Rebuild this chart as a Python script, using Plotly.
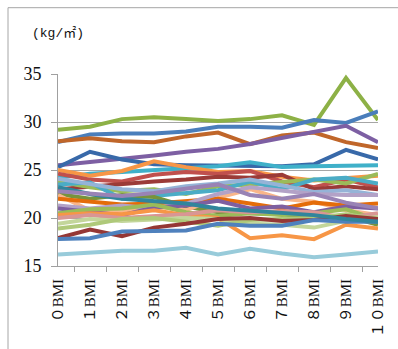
import plotly.graph_objects as go

# Categories (BMI measurement rounds)
categories = ["０BMI", "１BMI", "２BMI", "３BMI", "４BMI", "５BMI",
              "６BMI", "７BMI", "８BMI", "９BMI", "１０BMI"]

# BMI series (kg/m2), one list per subject
s01 = [29.2, 29.5, 30.3, 30.5, 30.3, 30.1, 30.3, 30.7, 29.7, 34.6, 30.2]
s02 = [27.9, 28.7, 28.8, 28.8, 29.0, 29.5, 29.5, 29.4, 30.2, 29.9, 31.1]
s03 = [28.0, 28.3, 28.0, 27.9, 28.5, 28.9, 27.7, 28.6, 28.9, 27.9, 27.3]
s04 = [25.5, 25.8, 26.1, 26.5, 26.9, 27.2, 27.7, 28.3, 28.9, 29.6, 27.9]
s05 = [25.3, 26.9, 26.1, 25.6, 25.5, 25.5, 25.4, 25.4, 25.6, 27.1, 26.1]
s06 = [24.2, 24.6, 24.8, 25.0, 25.2, 25.4, 25.8, 25.3, 25.4, 25.4, 25.5]
s07 = [25.0, 24.4, 24.9, 25.9, 25.3, 24.8, 24.9, 24.3, 23.9, 24.2, 24.4]
s08 = [24.6, 24.0, 23.8, 24.5, 24.8, 24.6, 24.9, 23.8, 23.2, 24.0, 23.2]
s09 = [23.0, 23.3, 23.6, 23.8, 24.0, 24.3, 24.2, 24.5, 23.0, 23.3, 23.0]
s10 = [23.8, 23.2, 22.8, 23.0, 22.5, 23.3, 23.5, 23.8, 24.0, 23.6, 24.6]
s11 = [23.5, 23.7, 22.0, 22.3, 22.5, 22.9, 23.8, 23.0, 24.0, 24.2, 23.6]
s12 = [24.1, 23.5, 23.0, 22.8, 23.3, 23.6, 24.0, 23.4, 22.7, 22.9, 22.4]
s13 = [22.5, 22.0, 22.4, 22.2, 21.2, 20.6, 20.5, 20.4, 20.0, 20.2, 19.3]
s14 = [22.4, 20.8, 20.6, 21.2, 20.8, 22.1, 23.0, 22.0, 21.7, 20.8, 20.3]
s15 = [22.0, 21.7, 21.4, 21.5, 21.8, 22.0, 21.5, 21.0, 21.6, 21.3, 21.5]
s16 = [21.3, 21.0, 21.3, 21.0, 21.5, 22.5, 23.2, 22.9, 22.5, 22.4, 22.4]
s17 = [21.0, 20.6, 20.3, 21.1, 21.3, 21.8, 21.0, 21.2, 20.6, 21.2, 21.0]
s18 = [20.5, 20.9, 21.0, 21.4, 20.6, 20.2, 20.5, 20.3, 20.5, 20.9, 19.8]
s19 = [20.3, 20.5, 20.4, 20.8, 20.3, 20.0, 17.9, 18.2, 17.8, 19.3, 18.9]
s20 = [20.0, 20.3, 20.0, 20.2, 20.4, 20.8, 20.6, 20.7, 20.6, 20.0, 20.5]
s21 = [19.4, 19.9, 19.7, 19.9, 20.0, 19.9, 19.4, 19.3, 19.0, 19.7, 20.1]
s22 = [18.9, 19.3, 19.9, 20.0, 19.6, 19.2, 19.8, 19.9, 20.0, 20.4, 19.9]
s23 = [17.9, 18.8, 18.1, 19.0, 19.4, 19.9, 20.0, 19.7, 19.8, 20.2, 19.9]
s24 = [17.8, 17.9, 18.6, 18.7, 18.7, 19.4, 19.2, 19.2, 19.8, 19.6, 19.6]
s25 = [16.2, 16.4, 16.6, 16.6, 16.9, 16.2, 16.8, 16.3, 15.9, 16.2, 16.5]
s26 = [23.2, 22.5, 22.0, 21.8, 21.5, 21.0, 20.8, 20.5, 20.3, 19.9, 19.6]
s27 = [22.8, 22.6, 22.3, 22.6, 23.0, 23.5, 22.4, 22.0, 22.5, 21.6, 21.0]

series = [s01, s02, s03, s04, s05, s06, s07, s08, s09, s10, s11, s12, s13, s14,
          s15, s16, s17, s18, s19, s20, s21, s22, s23, s24, s25, s26, s27]

colors = ["#8DB146", "#4A7EBB", "#C0662A", "#7D5FA3", "#3869A9", "#3FB0C9",
          "#F79646", "#C0504D", "#9B3B38", "#9BBB59", "#4BACC6", "#95B3D7",
          "#77933C", "#F9B68A", "#E46C0A", "#B3A2C7", "#7E5FA0", "#9BBB59",
          "#F79646", "#D99694", "#C3D69B", "#AFC97A", "#953735", "#4F81BD",
          "#98CBDA", "#31859C", "#9983B5"]

fig = go.Figure()
for vals, col in zip(series, colors):
    fig.add_trace(go.Scatter(x=categories, y=vals, mode="lines",
                             line=dict(color=col, width=4),
                             showlegend=False, hoverinfo="skip"))

W, H = 398, 349
L, R, T, B = 58, 20, 74, 81
pw, ph = W - L - R, H - T - B

def px_x(x):
    return (x - L) / pw

def px_y(y):
    return (H - B - y) / ph

fig.update_layout(
    width=W, height=H,
    margin=dict(l=L, r=R, t=T, b=B),
    paper_bgcolor="white", plot_bgcolor="white",
    xaxis=dict(
        type="category", tickson="boundaries", ticks="outside", ticklen=5,
        tickcolor="#A0A0A0", showline=True, linecolor="#A0A0A0", linewidth=1,
        showgrid=False, tickangle=-90, ticklabelstandoff=6,
        tickfont=dict(family="Liberation Serif, Noto Sans CJK JP", size=15, color="#111"),
    ),
    yaxis=dict(
        range=[15, 35], dtick=5, tick0=15, ticks="outside", ticklen=6,
        tickcolor="#A0A0A0", showline=True, linecolor="#A0A0A0", linewidth=1,
        showgrid=True, gridcolor="#A6A6A6", gridwidth=1, zeroline=False,
        ticklabelstandoff=6,
        tickfont=dict(family="Liberation Serif", size=18, color="#111"),
    ),
    shapes=[dict(type="rect", xref="paper", yref="paper",
                 x0=px_x(8), x1=px_x(430), y0=px_y(380), y1=px_y(7),
                 line=dict(color="#A6A6A6", width=1), layer="below")],
    annotations=[dict(text="(kg/㎡)", xref="paper", yref="paper",
                      x=px_x(30), y=px_y(33), xanchor="left", yanchor="middle",
                      showarrow=False,
                      font=dict(family="Liberation Mono, Noto Sans CJK JP", size=13, color="#111"))],
)

fig.write_html("out.html")
